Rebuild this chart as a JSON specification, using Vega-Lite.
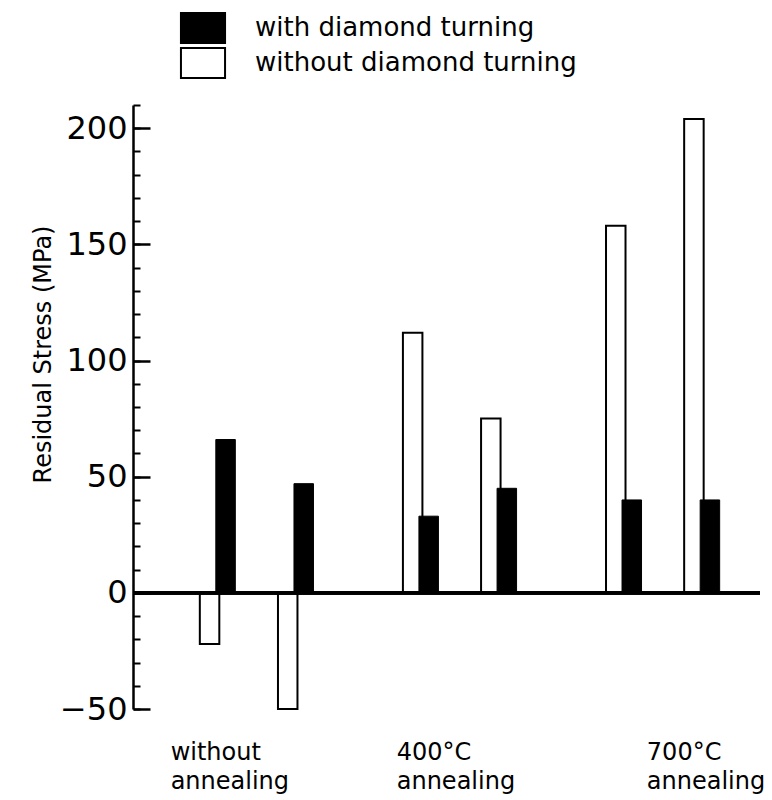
{
  "$schema": "https://vega.github.io/schema/vega-lite/v6.json",
  "width": 627,
  "height": 604,
  "autosize": {"type": "none"},
  "padding": {"left": 133, "top": 105, "right": 12, "bottom": 91},
  "background": "white",
  "config": {
    "view": {"stroke": null},
    "font": "DejaVu Sans",
    "axis": {"grid": false, "labelColor": "black", "titleColor": "black", "domainColor": "black", "tickColor": "black"},
    "legend": {"labelColor": "black"}
  },
  "data": {
    "values": [
      {"annealing": "without annealing", "specimen": "specimen 1", "series": "without diamond turning", "stress": -22},
      {"annealing": "without annealing", "specimen": "specimen 1", "series": "with diamond turning", "stress": 66},
      {"annealing": "without annealing", "specimen": "specimen 2", "series": "without diamond turning", "stress": -50},
      {"annealing": "without annealing", "specimen": "specimen 2", "series": "with diamond turning", "stress": 47},
      {"annealing": "400°C annealing", "specimen": "specimen 1", "series": "without diamond turning", "stress": 112},
      {"annealing": "400°C annealing", "specimen": "specimen 1", "series": "with diamond turning", "stress": 33},
      {"annealing": "400°C annealing", "specimen": "specimen 2", "series": "without diamond turning", "stress": 75},
      {"annealing": "400°C annealing", "specimen": "specimen 2", "series": "with diamond turning", "stress": 45},
      {"annealing": "700°C annealing", "specimen": "specimen 1", "series": "without diamond turning", "stress": 158},
      {"annealing": "700°C annealing", "specimen": "specimen 1", "series": "with diamond turning", "stress": 40},
      {"annealing": "700°C annealing", "specimen": "specimen 2", "series": "without diamond turning", "stress": 204},
      {"annealing": "700°C annealing", "specimen": "specimen 2", "series": "with diamond turning", "stress": 40}
    ]
  },
  "layer": [
    {
      "transform": [{"filter": "datum.series === 'without diamond turning'"}],
      "mark": {"type": "bar", "stroke": "black", "strokeWidth": 2},
      "encoding": {
        "x": {
          "field": "annealing",
          "type": "nominal",
          "sort": null,
          "scale": {"paddingInner": 0.4404, "paddingOuter": 0.2638, "align": 0.6236},
          "axis": {
            "title": null,
            "domain": false,
            "ticks": false,
            "labelAngle": 0,
            "labelAlign": "left",
            "labelBaseline": "top",
            "labelFontSize": 24,
            "labelLineHeight": 29,
            "labelPadding": 31,
            "labelLimit": 400,
            "labelExpr": "[split(datum.label, ' ')[0], (datum.label === '400°C annealing' ? '\u00a0' : '') + split(datum.label, ' ')[1]]",
            "labelOffset": {
              "condition": [
                {"test": "datum.value === 'without annealing'", "value": -86},
                {"test": "datum.value === '400°C annealing'", "value": -63}
              ],
              "value": -16
            }
          }
        },
        "xOffset": {
          "field": "specimen",
          "type": "nominal",
          "scale": {"paddingInner": 0.7505, "paddingOuter": 0.1024, "align": 0}
        },
        "y": {
          "field": "stress",
          "type": "quantitative",
          "scale": {"domain": [-50, 210], "nice": false, "zero": false},
          "axis": {
            "orient": "left",
            "title": "Residual Stress (MPa)",
            "titleFontSize": 24,
            "titleFontWeight": "normal",
            "titleAngle": -90,
            "titleAlign": "center",
            "titleBaseline": "alphabetic",
            "titleX": -83,
            "titleY": 249,
            "values": [-50, 0, 50, 100, 150, 200],
            "ticks": false,
            "domainWidth": 2.5,
            "labelFontSize": 32,
            "labelPadding": 6,
            "labelAlign": "right",
            "labelBaseline": "middle",
            "labelFlush": false,
            "labelOverlap": false
          }
        },
        "fill": {
          "field": "series",
          "type": "nominal",
          "scale": {"domain": ["with diamond turning", "without diamond turning"], "range": ["black", "white"]},
          "legend": {
            "title": null,
            "orient": "none",
            "legendX": 54,
            "legendY": -93,
            "direction": "vertical",
            "symbolType": "M-1.47,-1H1.47V1H-1.47Z",
            "symbolSize": 900,
            "symbolStrokeColor": "black",
            "symbolStrokeWidth": 2,
            "symbolOpacity": 1,
            "labelFontSize": 26,
            "labelOffset": 36,
            "labelLimit": 500,
            "rowPadding": -3,
            "padding": 0
          }
        }
      }
    },
    {
      "transform": [{"filter": "datum.series === 'with diamond turning'"}],
      "mark": {"type": "bar", "color": "black", "stroke": "black", "strokeWidth": 1},
      "encoding": {
        "x": {"field": "annealing", "type": "nominal", "sort": null},
        "xOffset": {
          "field": "specimen",
          "type": "nominal",
          "scale": {"paddingInner": 0.7505, "paddingOuter": 0.1024, "align": 1}
        },
        "y": {
          "field": "stress",
          "type": "quantitative",
          "axis": {
            "orient": "right",
            "offset": -627,
            "title": null,
            "labels": false,
            "domain": false,
            "values": [-50, 0, 50, 100, 150, 200],
            "tickSize": 17,
            "tickWidth": 2.5
          }
        }
      }
    },
    {
      "mark": {"type": "rule", "color": "black", "strokeWidth": 3},
      "encoding": {
        "y": {
          "datum": 0,
          "type": "quantitative",
          "axis": {
            "orient": "right",
            "offset": -627,
            "title": null,
            "labels": false,
            "domain": false,
            "values": [-50, -40, -30, -20, -10, 0, 10, 20, 30, 40, 50, 60, 70, 80, 90, 100, 110, 120, 130, 140, 150, 160, 170, 180, 190, 200, 210],
            "tickSize": 7,
            "tickWidth": 2
          }
        }
      }
    }
  ],
  "resolve": {"axis": {"y": "independent"}, "scale": {"xOffset": "independent"}}
}
